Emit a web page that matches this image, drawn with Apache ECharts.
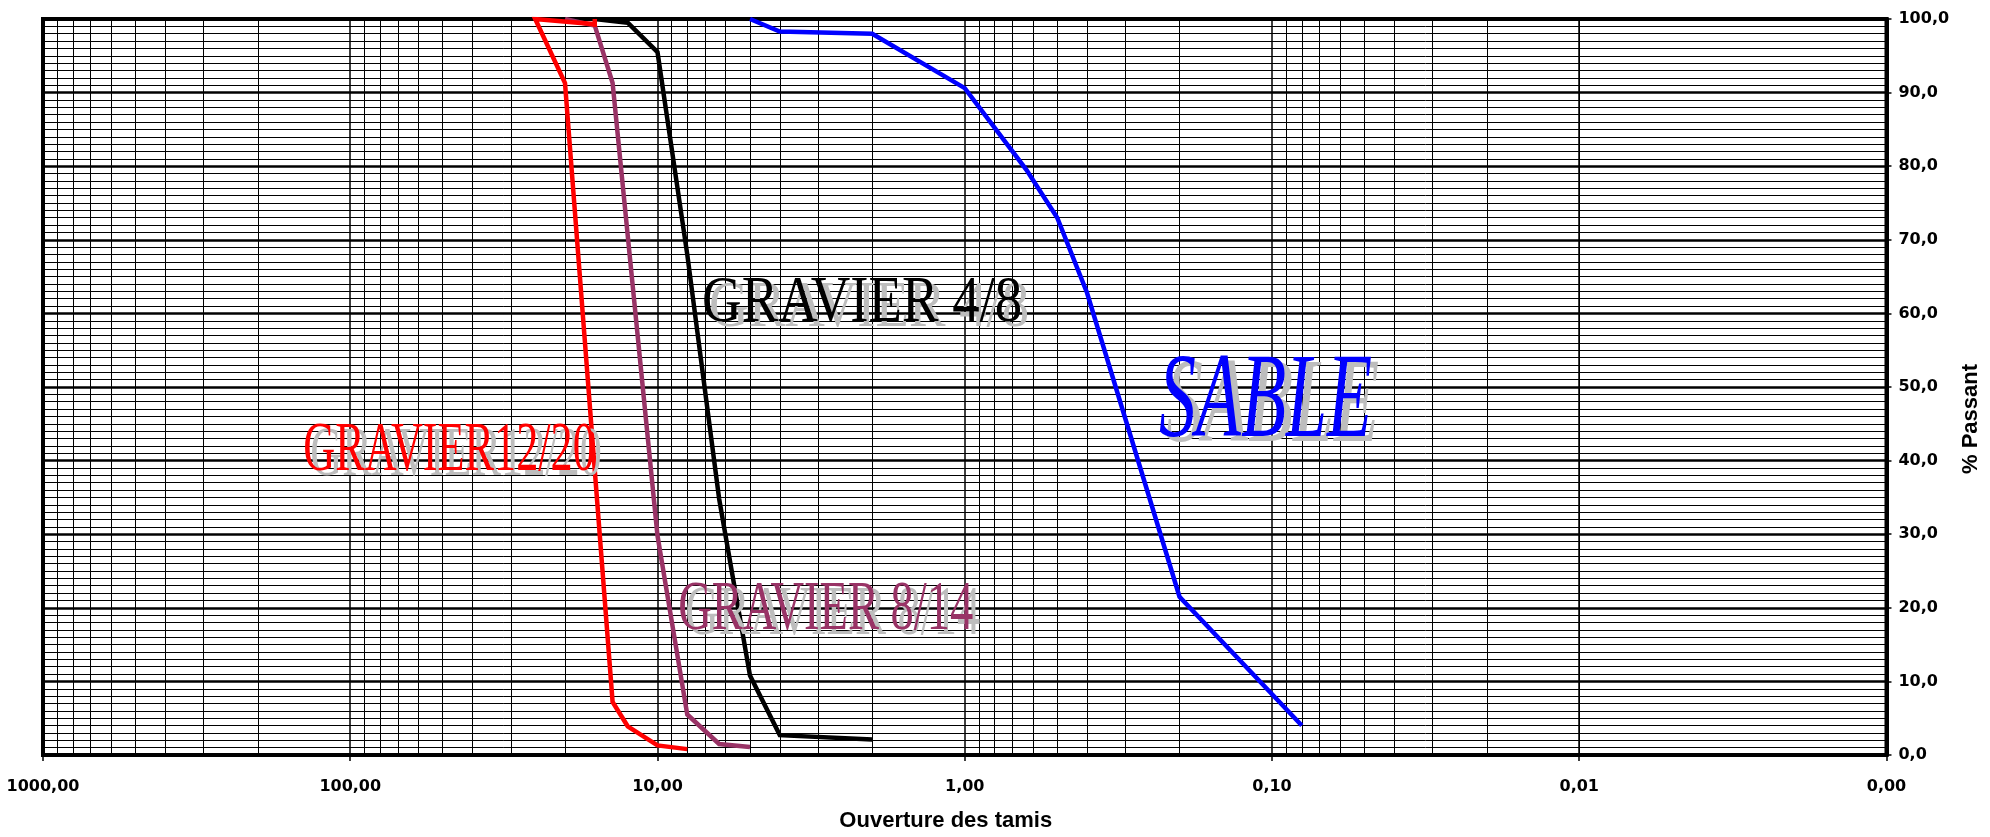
<!DOCTYPE html>
<html><head><meta charset="utf-8">
<script src="https://cdn.jsdelivr.net/npm/echarts@6/dist/echarts.min.js"></script>
<style>html,body{margin:0;padding:0;background:#fff}#c{width:1990px;height:837px}</style>
</head><body><div id="c"></div>
<script>
// ---- axis ticks / labels ----
const xTicks = [1000, 100, 10, 1, 0.1, 0.01, 0.001];
const xTickLabels = ['1000,00', '100,00', '10,00', '1,00', '0,10', '0,01', '0,00'];
const yTicks = [0, 10, 20, 30, 40, 50, 60, 70, 80, 90, 100];
const yTickLabels = ['0,0', '10,0', '20,0', '30,0', '40,0', '50,0', '60,0', '70,0', '80,0', '90,0', '100,0'];
const gridMultipliers = [2, 3, 4, 5, 6, 7, 8, 9];
const gridDecades = [0.001, 0.01, 0.1, 1, 10, 100];

// ---- series (sieve opening mm, % passing) ----
const sableX = [5, 4, 2, 1, 0.63, 0.5, 0.4, 0.2, 0.08];
const sableY = [100, 98.3, 98.0, 90.6, 79.5, 73.0, 62.8, 21.5, 4.0];
const g48X = [16, 12.5, 10, 8, 6.3, 5, 4, 2];
const g48Y = [100, 99.5, 95.5, 68.0, 34.8, 10.8, 2.7, 2.1];
const g814X = [20, 16, 14, 10, 8, 6.3, 5];
const g814Y = [100, 99.1, 91.3, 29.8, 5.5, 1.5, 1.1];
const g1220X = [16, 16, 16, 25, 20, 14, 12.5, 10, 8];
const g1220Y = [100, 98.9, 99.3, 100, 91.3, 7.2, 3.9, 1.3, 0.8];

// ---- annotation texts ----
const annTexts = ['GRAVIER 4/8', 'SABLE', 'GRAVIER12/20', 'GRAVIER 8/14'];
const annAnchorX = [7.16, 0.2334, 142.3, 8.56];
const annAnchorY = [61.3, 47.6, 41.2, 19.6];

const annStyle = [
  {color: '#000000', size: 66, sx: 0.83, italic: false},
  {color: '#0000FF', size: 121, sx: 0.61, italic: true},
  {color: '#FF0000', size: 70, sx: 0.632, italic: false},
  {color: '#993366', size: 69, sx: 0.674, italic: false}
];

const zip = (xs, ys) => xs.map((x, i) => [x, ys[i]]);
const minorXs = [];
gridDecades.forEach(d => gridMultipliers.forEach(m => minorXs.push(+(d * m).toPrecision(6))));

const tickFont = '"DejaVu Sans", Verdana, sans-serif';
const nameFont = '"Liberation Sans", Arial, sans-serif';

function xLabel(v) {
  for (let i = 0; i < xTicks.length; i++) {
    if (Math.abs(Math.log10(v) - Math.log10(xTicks[i])) < 1e-6) return xTickLabels[i];
  }
  return '';
}
function yLabel(v) {
  const i = yTicks.indexOf(Math.round(v));
  return i >= 0 ? yTickLabels[i] : '';
}

const chart = echarts.init(document.getElementById('c'), null, {renderer: 'canvas'});

const lineSeries = (name, data, color) => ({
  name, type: 'line', data, z: 3, symbol: 'none', showSymbol: false,
  lineStyle: {color, width: 4.5, join: 'miter'}, silent: true, animation: false
});

chart.setOption({
  animation: false,
  backgroundColor: '#ffffff',
  grid: {left: 43, right: 91, top: 19, bottom: 78, show: true, borderColor: '#000', borderWidth: 4, backgroundColor: 'transparent'},
  xAxis: {
    type: 'log', logBase: 10, min: 0.001, max: 1000, inverse: true, splitNumber: 6,
    axisLine: {show: true, onZero: false, lineStyle: {color: '#000', width: 4}},
    axisTick: {show: true, length: 6, lineStyle: {color: '#000', width: 1.5}},
    axisLabel: {formatter: xLabel, margin: 24, fontSize: 16, fontWeight: 'bold', color: '#000', fontFamily: tickFont, showMinLabel: true, showMaxLabel: true},
    splitLine: {show: true, lineStyle: {color: '#000', width: 1.5}},
    minorTick: {show: false}, minorSplitLine: {show: false},
    name: 'Ouverture des tamis', nameLocation: 'middle', nameGap: 55,
    nameTextStyle: {fontSize: 22, fontWeight: 'bold', color: '#000', fontFamily: nameFont, padding: [0, 38, 0, 0]}
  },
  yAxis: {
    type: 'value', position: 'right', min: 0, max: 100, interval: 10,
    axisLine: {show: true, lineStyle: {color: '#000', width: 4}},
    axisTick: {show: true, length: 5, lineStyle: {color: '#000', width: 1.5}},
    axisLabel: {formatter: yLabel, margin: 12, fontSize: 16, fontWeight: 'bold', color: '#000', fontFamily: tickFont},
    splitLine: {show: true, lineStyle: {color: '#000', width: 2.5}},
    minorTick: {show: false, splitNumber: 10},
    minorSplitLine: {show: true, lineStyle: {color: '#000', width: 1}},
    name: '% Passant', nameLocation: 'middle', nameRotate: 90, nameGap: 64,
    nameTextStyle: {fontSize: 22, fontWeight: 'bold', color: '#000', fontFamily: '"Liberation Sans Narrow", "Liberation Sans", Arial', padding: [0, 64, 0, 0]}
  },
  series: [
    {
      type: 'line', data: [], z: 1, silent: true,
      markLine: {
        silent: true, symbol: 'none', z: 1, animation: false,
        label: {show: false},
        lineStyle: {color: '#000', width: 1, type: 'solid'},
        emphasis: {disabled: true},
        data: minorXs.map(v => ({xAxis: v}))
      }
    },
    lineSeries('SABLE', zip(sableX, sableY), '#0000FF'),
    lineSeries('GRAVIER 4/8', zip(g48X, g48Y), '#000000'),
    lineSeries('GRAVIER 8/14', zip(g814X, g814Y), '#993366'),
    lineSeries('GRAVIER 12/20', zip(g1220X, g1220Y), '#FF0000')
  ]
});

const graphics = [];
annTexts.forEach((t, i) => {
  const p = chart.convertToPixel({gridIndex: 0}, [annAnchorX[i], annAnchorY[i]]);
  const st = annStyle[i];
  const font = (st.italic ? 'italic ' : '') + st.size + 'px "Liberation Serif", "Times New Roman", serif';
  graphics.push({
    type: 'text', x: p[0] + 7, y: p[1] + 5, scaleX: st.sx, z: 10, silent: true,
    style: {text: t, font, fill: '#bdbdbd', textAlign: 'left', textVerticalAlign: 'middle', verticalAlign: 'middle'}
  });
  graphics.push({
    type: 'text', x: p[0], y: p[1], scaleX: st.sx, z: 11, silent: true,
    style: {text: t, font, fill: st.color, textAlign: 'left', textVerticalAlign: 'middle', verticalAlign: 'middle'}
  });
});
chart.setOption({graphic: graphics});
</script>
</body></html>
